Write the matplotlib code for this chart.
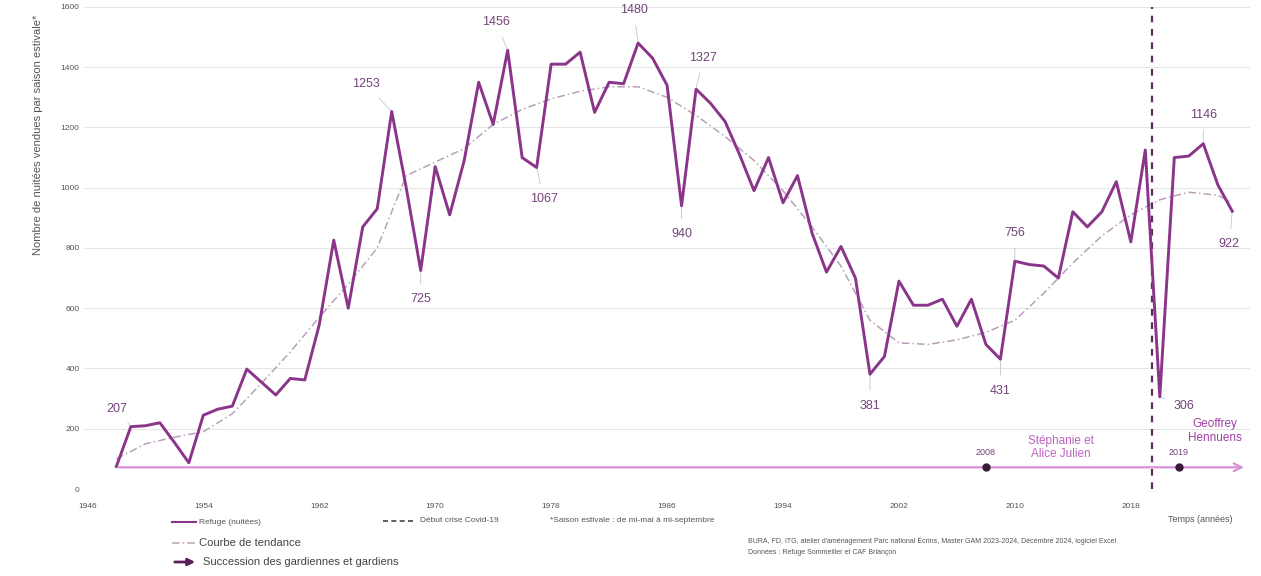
import matplotlib
matplotlib.use("Agg")
import matplotlib.pyplot as plt

plt.rcParams['font.family'] = ['Liberation Sans', 'DejaVu Sans']

# Nuitées vendues par saison estivale, refuge
years = list(range(1948, 2026))
nights = [75, 207, 210, 220, 155, 87, 245, 265, 275, 398, 355, 312, 367, 362,
          545, 826, 600, 870, 930, 1253, 1000, 725, 1070, 910, 1090, 1350,
          1210, 1456, 1100, 1067, 1410, 1410, 1450, 1250, 1350, 1345, 1480,
          1430, 1340, 940, 1327, 1280, 1220, 1110, 990, 1100, 950, 1040, 850,
          720, 805, 700, 381, 440, 690, 610, 610, 630, 540, 630, 480, 431,
          756, 745, 740, 700, 920, 870, 920, 1020, 820, 1125, 306, 1100, 1105,
          1146, 1010, 922]

# Courbe de tendance
trend_years = [1948, 1950, 1952, 1954, 1956, 1958, 1960, 1962, 1964, 1966,
               1968, 1970, 1972, 1974, 1976, 1978, 1980, 1982, 1984, 1986,
               1988, 1990, 1992, 1994, 1996, 1998, 2000, 2002, 2004, 2006,
               2008, 2010, 2012, 2014, 2016, 2018, 2020, 2022, 2024, 2025]
trend = [100, 150, 172, 190, 250, 350, 455, 570, 680, 800, 1040, 1085, 1130,
         1210, 1260, 1295, 1320, 1335, 1335, 1300, 1240, 1170, 1090, 990, 870,
         740, 560, 485, 480, 495, 520, 560, 650, 750, 840, 910, 960, 985, 975,
         950]

# valeurs annotées : année -> décalage du texte (années, nuitées)
labelled = {1949: (-1, 60), 1967: (-1.8, 90), 1969: (0, -95), 1975: (-0.8, 95),
            1977: (0.5, -105), 1984: (-0.3, 110), 1987: (0, -95), 1988: (0.5, 105),
            2000: (0, -105), 2009: (0, -105), 2010: (0, 95), 2020: (1.7, -30),
            2023: (0, 95), 2025: (-0.2, -110)}

xticks = list(range(1946, 2019, 8))
yticks = list(range(0, 1601, 200))

timeline_start, timeline_end, timeline_y = 1948, 2026, 72
keepers = [(2008, '2008'), (2021.3, '2019')]
covid_year = 2019.45

purple = '#8a348a'
label_col = '#74437a'
pink = '#d890d8'

fig = plt.figure(figsize=(12.61, 5.76), dpi=100)
ax = fig.add_axes([0.067, 0.151, 0.924, 0.837])

ax.set_xlim(1945.8, 2026.2)
ax.set_ylim(0, 1600)
ax.set_yticks(yticks)
ax.set_xticks(xticks)
ax.tick_params(axis='both', length=0, labelsize=6, colors='#555555')
ax.tick_params(axis='x', pad=10)
ax.grid(axis='y', color='#e6e6e6', linewidth=0.8)
for s in ax.spines.values():
    s.set_visible(False)
ax.set_ylabel('Nombre de nuitées vendues par saison estivale*', fontsize=8,
              color='#555555')
ax.yaxis.set_label_coords(-0.036, 0.735)

# frise des gardiens
ax.annotate('', xy=(timeline_end, timeline_y), xytext=(timeline_start, timeline_y),
            arrowprops=dict(arrowstyle='->', color=pink, lw=1.6,
                            mutation_scale=14), zorder=1)
for xk, lab in keepers:
    ax.plot(xk, timeline_y, 'o', color='#3a1a3a', ms=5, zorder=4)
    ax.text(xk, timeline_y + 35, lab, ha='center', va='bottom', fontsize=6.5,
            color=label_col)
ax.text(2013.2, 95, 'Stéphanie et\nAlice Julien', ha='center', va='bottom',
        fontsize=8.5, color='#c060c0', linespacing=1.2)
ax.text(2023.8, 150, 'Geoffrey\nHennuens', ha='center', va='bottom',
        fontsize=8.5, color='#a040a0', linespacing=1.2)

# covid
ax.axvline(covid_year, color='#5a2a5a', lw=1.6, ls=(0, (3, 3)), zorder=3)

ax.plot(trend_years, trend, color='#b9a0b9', lw=1.1, ls=(0, (5, 2, 1, 2)), zorder=2)
ax.plot(years, nights, color=purple, lw=2.1, zorder=5)

for yr, (dx, dy) in labelled.items():
    v = nights[years.index(yr)]
    ax.annotate(str(v), xy=(yr, v), xytext=(yr + dx, v + dy), ha='center',
                va='center', fontsize=9, color=label_col,
                arrowprops=dict(arrowstyle='-', color='#b8c8d0', lw=0.6,
                                shrinkA=5, shrinkB=1))

# légende et notes
fig.lines.append(plt.Line2D([172 / 1261, 196 / 1261], [1 - 522 / 576] * 2,
                            color=purple, lw=1.5, transform=fig.transFigure))
fig.text(199 / 1261, 1 - 522 / 576, 'Refuge (nuitées)', fontsize=6,
         color='#555555', va='center')
fig.lines.append(plt.Line2D([172 / 1261, 196 / 1261], [1 - 543 / 576] * 2,
                            color='#b9a0b9', lw=1.1, ls=(0, (5, 2, 1, 2)),
                            transform=fig.transFigure))
fig.text(199 / 1261, 1 - 543 / 576, 'Courbe de tendance', fontsize=8,
         color='#444444', va='center')
fig.patches.append(matplotlib.patches.FancyArrowPatch(
    (172 / 1261, 1 - 562 / 576), (198 / 1261, 1 - 562 / 576),
    arrowstyle='-|>', mutation_scale=10, color='#5a1f5a', lw=2,
    transform=fig.transFigure))
fig.text(203 / 1261, 1 - 562 / 576, 'Succession des gardiennes et gardiens',
         fontsize=8, color='#444444', va='center')
fig.lines.append(plt.Line2D([383 / 1261, 415 / 1261], [1 - 521 / 576] * 2,
                            color='#444444', lw=1.2, ls=(0, (3, 2)),
                            transform=fig.transFigure))
fig.text(420 / 1261, 1 - 521 / 576, 'Début crise Covid-19', fontsize=6,
         color='#555555', va='center')
fig.text(550 / 1261, 1 - 521 / 576, '*Saison estivale : de mi-mai à mi-septembre',
         fontsize=6, color='#555555', va='center')
fig.text(1200 / 1261, 1 - 520 / 576, 'Temps (années)', fontsize=6.5,
         color='#555555', va='center', ha='center')
fig.text(748 / 1261, 1 - 541 / 576,
         "BURA, FD, ITG, atelier d'aménagement Parc national Écrins, Master GAM 2023-2024, "
         "Décembre 2024, logiciel Excel", fontsize=5, color='#555555', va='center')
fig.text(748 / 1261, 1 - 553 / 576, 'Données : Refuge Sommeiller et CAF Briançon',
         fontsize=5, color='#555555', va='center')

fig.savefig('out.png', dpi=100)
